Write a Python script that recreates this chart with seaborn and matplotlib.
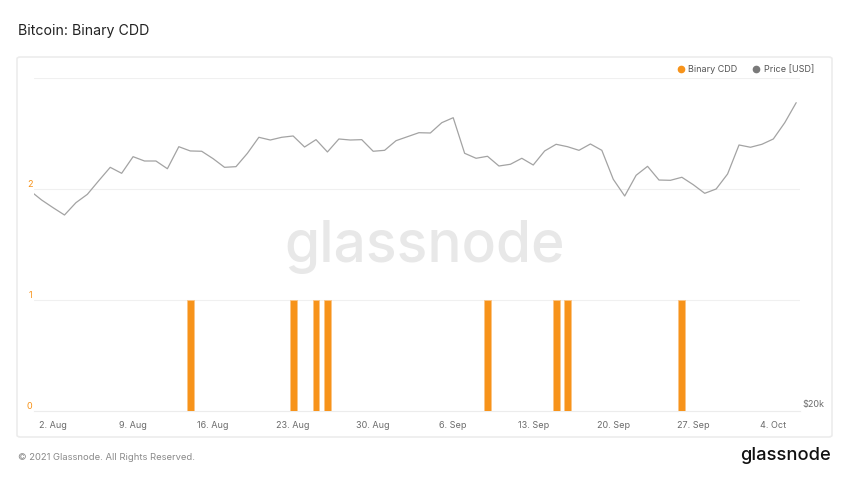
import pandas as pd
import matplotlib.pyplot as plt
import matplotlib.dates as mdates
from matplotlib.lines import Line2D
from matplotlib.patches import FancyBboxPatch
import seaborn as sns

# daily BTC price (USD), 31 Jul -> 6 Oct 2021
price_start = "2021-07-31"
price_end = "2021-10-06"
price_usd = [
    41100,
    39850, 38830, 37880, 39490, 40620, 42540, 44500, 43610, 46130, 45460,
    45460, 44290, 47710, 47030, 46980, 45820, 44500, 44600, 46660, 49250,
    48800, 49250, 49470, 47660, 48860, 46870, 48970, 48800, 48860, 46980, 47130,
    48690, 49350, 50020, 49970, 51740, 52620, 46660, 45880, 46190, 44700,
    44960, 45880, 44850, 47030, 48100, 47710, 47130, 48150, 47130, 42740,
    40390, 43320, 44650, 42630, 42590, 43030, 41960, 40760, 41360, 43510,
    47990, 47620, 48100, 48970, 51740, 55360,
]

# days where binary CDD fired
cdd_dates = ["2021-08-14", "2021-08-23", "2021-08-25", "2021-08-26",
             "2021-09-09", "2021-09-15", "2021-09-16", "2021-09-26"]
cdd_values = [1, 1, 1, 1, 1, 1, 1, 1]

xtick_dates = ["2021-08-02", "2021-08-09", "2021-08-16", "2021-08-23", "2021-08-30",
               "2021-09-06", "2021-09-13", "2021-09-20", "2021-09-27", "2021-10-04"]
left_ticks = [0, 1, 2, 3]
left_labels = ["0", "1", "2", ""]

ORANGE = "#f7931a"
GREY_LINE = "#a3a3a3"
TXT = "#6b6b6b"

sns.set_theme(style="white")
plt.rcParams["font.family"] = ["Inter", "DejaVu Sans"]

df_price = pd.DataFrame({"date": pd.date_range(price_start, price_end, freq="D"),
                         "price": price_usd})
df_cdd = pd.DataFrame({"date": pd.to_datetime(cdd_dates), "cdd": cdd_values})

fig = plt.figure(figsize=(8.5, 4.78), dpi=100)
fig.patch.set_facecolor("white")

# card frame
frame = FancyBboxPatch((17 / 850, 1 - 437 / 478), 815 / 850, 380 / 478,
                       boxstyle="round,pad=0,rounding_size=0.004",
                       transform=fig.transFigure, facecolor="none",
                       edgecolor="#ececec", linewidth=1.2, zorder=-1)
fig.patches.append(frame)

ax = fig.add_axes([34 / 850, 1 - 411 / 478, 766 / 850, 333 / 478])
ax.set_facecolor("none")

ax.bar(df_cdd["date"], df_cdd["cdd"], width=0.6, color=ORANGE,
       edgecolor="#fbc587", linewidth=0.6, zorder=3)

ax.set_ylim(0, 3)
ax.set_yticks(left_ticks)
ax.set_yticklabels(left_labels)
ax.tick_params(axis="y", length=0, pad=1, labelsize=6.5, labelcolor=ORANGE)
for lbl in ax.get_yticklabels():
    lbl.set_verticalalignment("bottom")
ax.grid(axis="y", color="#f0f0f0", linewidth=0.8)
ax.grid(axis="x", visible=False)

ax.set_xlim(pd.Timestamp("2021-07-31 08:00"), pd.Timestamp("2021-10-06 08:00"))
ax.set_xticks(pd.to_datetime(xtick_dates))
ax.xaxis.set_major_formatter(mdates.DateFormatter("%-d. %b"))
ax.tick_params(axis="x", length=5, width=0.6, color="#ececec", pad=2,
               labelsize=6.5, labelcolor=TXT)
for side in ["top", "left", "right"]:
    ax.spines[side].set_visible(False)
ax.spines["bottom"].set_color("#ececec")
ax.spines["bottom"].set_linewidth(0.8)
ax.set_xlabel("")
ax.set_ylabel("")

# watermark
ax.text(0.51, 1 - (262 - 78) / 333, "glassnode", transform=ax.transAxes,
        ha="center", va="baseline", fontsize=41, fontweight="medium",
        color="#e8e8e8", zorder=0)

ax2 = ax.twinx()
sns.lineplot(data=df_price, x="date", y="price", ax=ax2, color=GREY_LINE,
             linewidth=0.9, zorder=4)
ax2.set_yscale("log")
ax2.set_ylim(19540, 60170)
ax2.set_yticks([20000])
ax2.set_yticklabels(["$20k"])
ax2.minorticks_off()
ax2.tick_params(axis="y", length=0, pad=2, labelsize=6.5, labelcolor=TXT)
for lbl in ax2.get_yticklabels():
    lbl.set_verticalalignment("center")
for side in ["top", "left", "right", "bottom"]:
    ax2.spines[side].set_visible(False)
ax2.set_xlabel("")
ax2.set_ylabel("")
ax2.grid(False)

handles = [
    Line2D([], [], marker="o", linestyle="", markersize=4.5,
           markerfacecolor=ORANGE, markeredgecolor=ORANGE, label="Binary CDD"),
    Line2D([], [], marker="o", linestyle="", markersize=4.5,
           markerfacecolor="#7a7a7a", markeredgecolor="#7a7a7a", label="Price [USD]"),
]
fig.legend(handles=handles, loc="center right", bbox_to_anchor=(822 / 850, 1 - 70 / 478),
           ncol=2, frameon=False, fontsize=6.5, labelcolor="#555555",
           handletextpad=0.3, columnspacing=1.6, handlelength=1.0)

fig.text(18 / 850, 1 - 31 / 478, "Bitcoin: Binary CDD", ha="left", va="center",
         fontsize=10.2, color="#222222")
fig.text(18 / 850, 1 - 457 / 478, "© 2021 Glassnode. All Rights Reserved.",
         ha="left", va="center", fontsize=6.8, color="#8a8a8a")
fig.text(831 / 850, 1 - 460 / 478, "glassnode", ha="right", va="baseline",
         fontsize=13.2, fontweight="medium", color="#111111")

fig.savefig("out.png", dpi=100)
